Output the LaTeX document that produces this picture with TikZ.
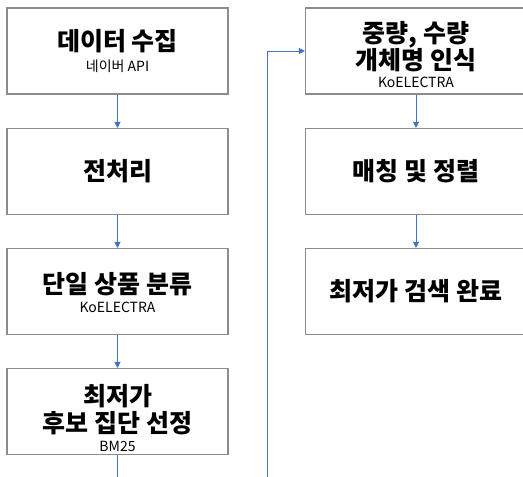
\documentclass[tikz,border=0pt]{standalone}
\usepackage{fontspec}
\setmainfont{Noto Sans CJK KR}
\usetikzlibrary{arrows.meta}
\definecolor{arr}{HTML}{4472C4}
\definecolor{bord}{HTML}{8C8C8C}
\newcommand{\boxfnt}{\fontsize{25pt}{26pt}\selectfont\bfseries\setlength{\lineskiplimit}{-30pt}\setlength{\lineskip}{0pt}}
\newcommand{\subfnt}{\fontsize{14pt}{14pt}\selectfont\mdseries}
\tikzset{
  box/.style={draw=bord, line width=1.1pt, fill=white, minimum width=221pt, minimum height=86pt, inner sep=0pt},
  txt/.style={align=center, inner sep=0pt, font=\boxfnt},
  conn/.style={draw=arr, line width=0.8pt, -{Triangle[length=6pt,width=6pt]}},
  plain/.style={draw=arr, line width=0.8pt},
}
\begin{document}
\begin{tikzpicture}[x=1pt,y=1pt]
\useasboundingbox (0,0) rectangle (523,-477);
\node[box] (b1) at (117.5,-51) {};
\node[box] (b2) at (117.5,-171.5) {};
\node[box] (b3) at (117.5,-291.5) {};
\node[box] (b4) at (117.5,-411.5) {};
\node[box] (b5) at (416,-51) {};
\node[box] (b6) at (416,-171.5) {};
\node[box] (b7) at (416,-291.5) {};
\node[txt] (t1) at (117.5,-51) {데이터 수집\\[-5pt]\subfnt 네이버 API};
\node[txt] (t2) at (b2.center) {전처리};
\node[txt] (t3) at (117.5,-292.5) {단일 상품 분류\\[-7pt]\subfnt KoELECTRA};
\node[txt] (t4) at (117.5,-418) {최저가\\[1pt] 후보 집단 선정\\[-7pt]\subfnt BM25};
\node[txt] (t5) at (416,-55) {중량, 수량\\[1pt] 개체명 인식\\[-8pt]\subfnt KoELECTRA};
\node[txt] (t6) at (b6.center) {매칭 및 정렬};
\node[txt] (t7) at (b7.center) {최저가 검색 완료};
\coordinate (e1) at (117.5,-477);
\coordinate (e2) at (267,-477);
\draw[conn] (b1) -- (b2);
\draw[conn] (b2) -- (b3);
\draw[conn] (b3) -- (b4);
\draw[plain] (b4) -- (e1);
\draw[conn] (e2) |- (b5.west);
\draw[conn] (b5) -- (b6);
\draw[conn] (b6) -- (b7);
\end{tikzpicture}
\end{document}
